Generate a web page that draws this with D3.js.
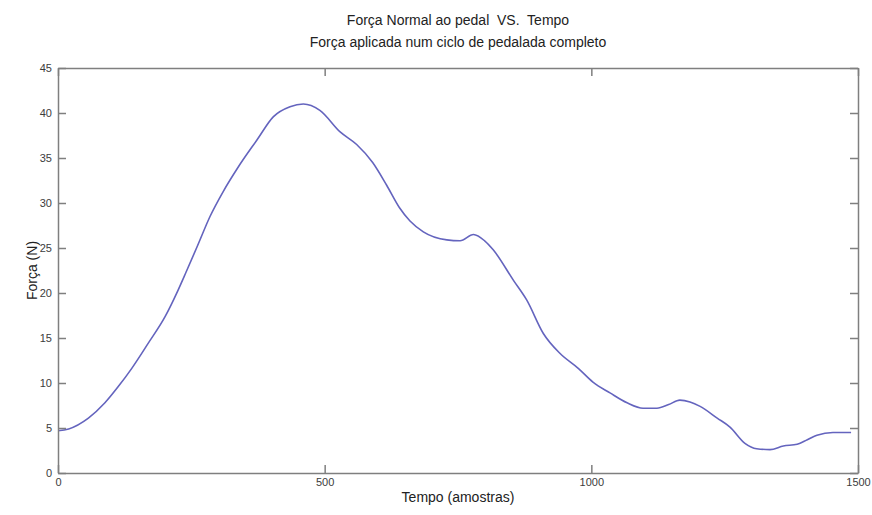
<!DOCTYPE html>
<html>
<head>
<meta charset="utf-8">
<script src="https://cdn.jsdelivr.net/npm/d3@7"></script>
<style>
  html, body { margin: 0; padding: 0; background: #fff; }
  svg { display: block; }
  text { font-family: "Liberation Sans", Arial, sans-serif; white-space: pre; }
</style>
</head>
<body>
<svg id="chart" width="872" height="515"></svg>
<script>
// ---- Data ----
const sampleIdx = [0, 20, 57, 88, 113, 138, 169, 201, 225, 240, 262, 285, 310, 338, 373, 404, 435, 460, 491, 529,
  560, 590, 616, 640, 660, 685, 729, 754, 779, 800, 816, 854, 879, 910, 941, 976, 1003, 1035, 1067, 1097,
  1123, 1145, 1166, 1185, 1204, 1236, 1260, 1288, 1310, 1335, 1360, 1386, 1405, 1423, 1453, 1487];
const forceN = [4.7, 4.9, 6.1, 7.8, 9.6, 11.6, 14.4, 17.4, 20.3, 22.3, 25.3, 28.5, 31.3, 34.0, 37.0, 39.6, 40.7, 41.0, 40.3, 37.9,
  36.5, 34.5, 32.0, 29.5, 28.0, 26.8, 25.9, 25.8, 26.5, 25.8, 24.8, 21.4, 19.2, 15.5, 13.3, 11.6, 10.1, 8.9, 7.8, 7.2,
  7.2, 7.6, 8.1, 7.9, 7.4, 6.1, 5.1, 3.3, 2.7, 2.6, 3.0, 3.2, 3.7, 4.2, 4.5, 4.5];
const xTicks = [0, 500, 1000, 1500];
const yTicks = [0, 5, 10, 15, 20, 25, 30, 35, 40, 45];
const titleLines = ["Força Normal ao pedal  VS.  Tempo", "Força aplicada num ciclo de pedalada completo"];
const xLabel = "Tempo (amostras)";
const yLabel = "Força (N)";

// ---- Layout ----
const svg = d3.select("#chart");
const m = { left: 58, right: 858, top: 68, bottom: 473 };
const x = d3.scaleLinear().domain([0, 1500]).range([m.left, m.right]);
const y = d3.scaleLinear().domain([0, 45]).range([m.bottom, m.top]);
const frameColor = "#7f7f7f";
const textColor = "#3c3c3c";
const tickLen = 8;

// Line
const data = sampleIdx.map((d, i) => ({ x: d, y: forceN[i] }));
svg.append("path")
  .datum(data)
  .attr("fill", "none")
  .attr("stroke", "#6464be")
  .attr("stroke-width", 1.6)
  .attr("d", d3.line().x(d => x(d.x)).y(d => y(d.y)).curve(d3.curveMonotoneX));

// Axes (MATLAB-style, inward ticks on all sides)
function styleAxis(g) {
  g.selectAll(".domain").attr("stroke", frameColor).attr("stroke-width", 1.5);
  g.selectAll(".tick line").attr("stroke", frameColor).attr("stroke-width", 1.5);
  g.selectAll(".tick text").attr("fill", textColor).style("font-size", "11px").style("font-family", "Liberation Sans, Arial, sans-serif");
}
const gx = svg.append("g").attr("transform", `translate(0,${m.bottom})`)
  .call(d3.axisBottom(x).tickValues(xTicks).tickSizeInner(-tickLen).tickSizeOuter(0).tickPadding(5).tickFormat(d3.format("d")));
styleAxis(gx);
const gxTop = svg.append("g").attr("transform", `translate(0,${m.top})`)
  .call(d3.axisTop(x).tickValues(xTicks).tickSizeInner(-tickLen).tickSizeOuter(0).tickFormat(""));
styleAxis(gxTop);
const gy = svg.append("g").attr("transform", `translate(${m.left},0)`)
  .call(d3.axisLeft(y).tickValues(yTicks).tickSizeInner(-tickLen).tickSizeOuter(0).tickPadding(6).tickFormat(d3.format("d")));
styleAxis(gy);
const gyR = svg.append("g").attr("transform", `translate(${m.right},0)`)
  .call(d3.axisRight(y).tickValues(yTicks).tickSizeInner(-tickLen).tickSizeOuter(0).tickFormat(""));
styleAxis(gyR);

// Titles
const cx = (m.left + m.right) / 2;
svg.append("text").attr("x", cx).attr("y", 25).attr("text-anchor", "middle").attr("xml:space", "preserve")
  .attr("fill", "#222").style("font-size", "14px").text(titleLines[0]);
svg.append("text").attr("x", cx).attr("y", 47).attr("text-anchor", "middle")
  .attr("fill", "#222").style("font-size", "14px").text(titleLines[1]);
svg.append("text").attr("x", cx).attr("y", 502).attr("text-anchor", "middle")
  .attr("fill", "#222").style("font-size", "14px").text(xLabel);
svg.append("text").attr("transform", `translate(37,${(m.top + m.bottom) / 2}) rotate(-90)`)
  .attr("text-anchor", "middle").attr("fill", "#222").style("font-size", "14px").text(yLabel);
</script>
</body>
</html>
